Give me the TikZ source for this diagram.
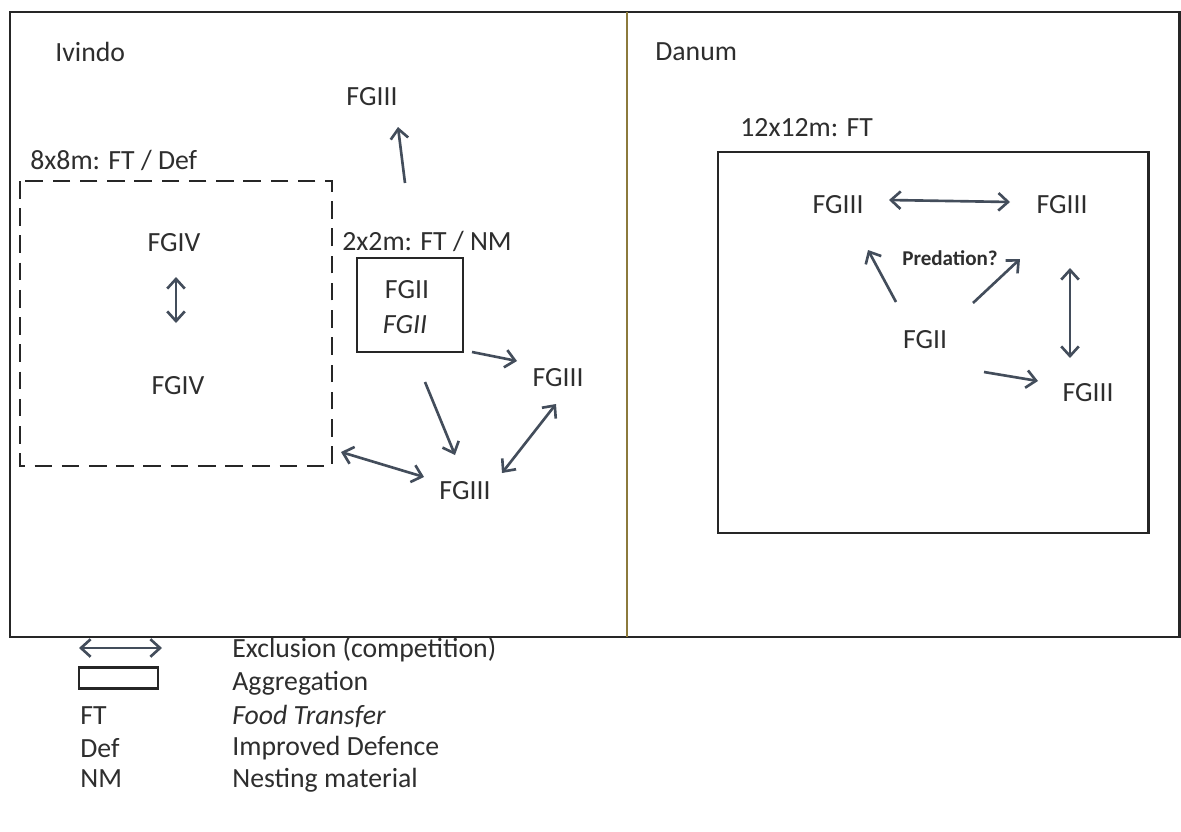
\documentclass[tikz,border=0pt]{standalone}
\usepackage{fontspec}
\setmainfont{Carlito}
\usetikzlibrary{arrows.meta}
\definecolor{arr}{HTML}{434D5B}
\definecolor{txt}{HTML}{2E2E2E}
\definecolor{divc}{HTML}{8C7A3C}
\tikzset{
  lbl/.style={text=txt, font=\fontsize{15.8}{18}\selectfont, inner sep=0pt},
  frame/.style={line width=1.7pt, draw=black!85},
  onearr/.style={draw=arr, line width=1.5pt, -{Straight Barb[length=5.5pt,width=10pt,line width=1.5pt]}},
  twoarr/.style={draw=arr, line width=1.5pt, {Straight Barb[length=5.5pt,width=10pt,line width=1.5pt]}-{Straight Barb[length=5.5pt,width=10pt,line width=1.5pt]}},
}
\begin{document}
\begin{tikzpicture}[x=0.02cm,y=-0.02cm]
\useasboundingbox[fill=white] (0,0) rectangle (1181,832);
% outer frame
\draw[frame] (10,12) rectangle (1179,637);
\draw[divc, line width=1pt] (627,12) -- (627,637);
% Ivindo side
\node[lbl, anchor=west] (ivindo) at (55,52) {Ivindo};
\node[lbl] (i3top) at (372,97) {FGIII};
\node[lbl, anchor=west] (l8) at (30,160) {8x8m: FT / Def};
\draw[frame, dashed, dash pattern=on 10pt off 5.5pt] (20,181) rectangle (332,466);
\node[lbl] (i4a) at (174,243) {FGIV};
\node[lbl] (i4b) at (178,386) {FGIV};
\node[lbl, anchor=west] (l2) at (342,241) {2x2m: FT / NM};
\draw[frame] (357,258) rectangle (463,352);
\node[lbl] (i2a) at (407,290) {FGII};
\node[lbl] (i2b) at (405,325) {\itshape FGII};
\node[lbl] (i3r) at (558,378) {FGIII};
\node[lbl] (i3b) at (465,491) {FGIII};
\coordinate (c1s) at (405,183); \coordinate (c1e) at (398,127);
\coordinate (c2s) at (472,352); \coordinate (c2e) at (517,361);
\coordinate (c3s) at (425,382); \coordinate (c3e) at (455,455);
\coordinate (c4s) at (341,452); \coordinate (c4e) at (424,477);
\coordinate (c5s) at (502,473); \coordinate (c5e) at (556,404);
\coordinate (c6s) at (176,277); \coordinate (c6e) at (176,323);
\draw[onearr] (c1s) -- (c1e);
\draw[twoarr] (c6s) -- (c6e);
\draw[onearr] (c2s) -- (c2e);
\draw[onearr] (c3s) -- (c3e);
\draw[twoarr] (c4s) -- (c4e);
\draw[twoarr] (c5s) -- (c5e);
% Danum side
\node[lbl, anchor=west] (danum) at (655,52) {Danum};
\node[lbl, anchor=west] (l12) at (740,128) {12x12m: FT};
\draw[frame] (718,152) rectangle (1148,533);
\node[lbl] (d3l) at (838,205) {FGIII};
\node[lbl] (d3r) at (1062,205) {FGIII};
\node[text=txt, font=\fontsize{12}{14}\selectfont\bfseries, inner sep=0pt] (pred) at (950,258) {Predation?};
\node[lbl] (d2) at (925,340) {FGII};
\node[lbl] (d3b) at (1088,393) {FGIII};
\coordinate (d1s) at (889,200); \coordinate (d1e) at (1010,202);
\coordinate (d2s) at (896,302); \coordinate (d2e) at (868,250);
\coordinate (d3s) at (973,303); \coordinate (d3e) at (1020,259);
\coordinate (d4s) at (1070,268); \coordinate (d4e) at (1070,358);
\coordinate (d5s) at (984,372); \coordinate (d5e) at (1038,381);
\draw[twoarr] (d1s) -- (d1e);
\draw[onearr] (d2s) -- (d2e);
\draw[onearr] (d3s) -- (d3e);
\draw[twoarr] (d4s) -- (d4e);
\draw[onearr] (d5s) -- (d5e);
% legend
\coordinate (ga) at (79,648); \coordinate (gb) at (162,648);
\draw[twoarr] (ga) -- (gb);
\draw[frame] (79,667) rectangle (158,688);
\node[lbl, anchor=west] (k1) at (80,716) {FT};
\node[lbl, anchor=west] (k2) at (80,748) {Def};
\node[lbl, anchor=west] (k3) at (80,779) {NM};
\node[lbl, anchor=west] (t0) at (232,650) {Exclusion (competition)};
\node[lbl, anchor=west] (t1) at (232,683) {Aggregation};
\node[lbl, anchor=west] (t2) at (232,716) {\itshape Food Transfer};
\node[lbl, anchor=west] (t3) at (232,748) {Improved Defence};
\node[lbl, anchor=west] (t4) at (232,780) {Nesting material};
\end{tikzpicture}
\end{document}
